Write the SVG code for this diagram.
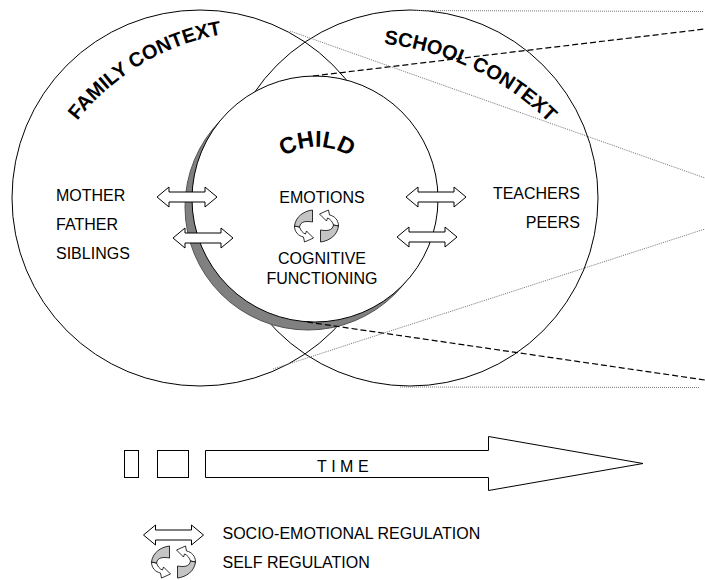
<svg xmlns="http://www.w3.org/2000/svg" xmlns:xlink="http://www.w3.org/1999/xlink" width="705" height="580" viewBox="0 0 705 580">
<style>
  .t { font-family: "Liberation Sans", Arial, sans-serif; font-size: 16px; fill: #000; }
  .tb { font-family: "Liberation Sans", Arial, sans-serif; font-weight: bold; fill: #000; }
  .circ { fill: none; stroke: #000; stroke-width: 1; }
  .dot { fill: none; stroke: #777; stroke-width: 1; stroke-dasharray: 1 1; }
  .dash { fill: none; stroke: #000; stroke-width: 1.2; stroke-dasharray: 6 3; }
  .dbl { fill: #fff; stroke: #000; stroke-width: 1; }
  .box { fill: #fff; stroke: #000; stroke-width: 1; }
  .rg { fill: #c4c4c4; stroke: #000; stroke-width: 0.8; stroke-linejoin: round; }
  .rw { fill: #fff; stroke: #000; stroke-width: 0.8; stroke-linejoin: round; }
</style>
<defs>
  <path id="dblArrow" d="M -30,0 L -18,-10 L -18,-5 L 18,-5 L 18,-10 L 30,0 L 18,10 L 18,5 L -18,5 L -18,10 Z"/>
  <g id="selfRegHalf">
    <path class="rw" d="M -22,0 C -22,6 -18,10 -13,11 L -12,16 L -3,12 L -10,5 L -11,8 C -14,7 -16,4 -17,1 Z"/>
    <path class="rg" d="M -4,-16 C -13,-15 -21,-9 -22,0 L -17,1 C -16,-5 -10,-5 -4,-4 Z"/>
  </g>
  <g id="selfReg">
    <use xlink:href="#selfRegHalf"/>
    <use xlink:href="#selfRegHalf" transform="rotate(180)"/>
  </g>
  <path id="arcFamily" d="M 54.5,155.7 A 235,235 0 0 1 253.8,31.2"/>
  <path id="arcSchool" d="M 331.1,42.9 A 279,279 0 0 1 582.9,163.0"/>
  <path id="arcChild" d="M 258.7,187.8 A 62,62 0 0 1 375.3,187.8"/>
</defs>

<g id="family-context">
  <circle class="circ" cx="200" cy="198" r="188"/>
  <text class="tb" font-size="20"><textPath xlink:href="#arcFamily" startOffset="52%" text-anchor="middle">FAMILY CONTEXT</textPath></text>
  <text class="t" x="56" y="200.5">MOTHER</text>
  <text class="t" x="56" y="229.5">FATHER</text>
  <text class="t" x="56" y="258.5">SIBLINGS</text>
</g>

<g id="school-context">
  <circle class="circ" cx="410" cy="198" r="188"/>
  <text class="tb" font-size="20"><textPath xlink:href="#arcSchool" startOffset="50%" text-anchor="middle">SCHOOL CONTEXT</textPath></text>
  <text class="t" x="580" y="198.5" text-anchor="end">TEACHERS</text>
  <text class="t" x="580" y="227.5" text-anchor="end">PEERS</text>
</g>

<g id="child">
  <circle cx="308" cy="207" r="123" fill="#808080" stroke="#555" stroke-width="1"/>
  <circle cx="315" cy="199" r="123" fill="#fff" stroke="#000" stroke-width="1"/>
  <text class="tb" font-size="23"><textPath xlink:href="#arcChild" startOffset="50%" text-anchor="middle">CHILD</textPath></text>
  <text class="t" x="322" y="203" text-anchor="middle">EMOTIONS</text>
  <use xlink:href="#selfReg" transform="translate(316.5,226)"/>
  <text class="t" x="322" y="264" text-anchor="middle">COGNITIVE</text>
  <text class="t" x="322" y="283.5" text-anchor="middle">FUNCTIONING</text>
</g>

<g id="connectors">
  <line class="dot" x1="410" y1="10.5" x2="703" y2="11.5"/>
  <line class="dash" x1="313" y1="76" x2="705" y2="29"/>
  <line class="dot" x1="290" y1="31" x2="705" y2="178"/>
  <line class="dot" x1="273" y1="369" x2="705" y2="229"/>
  <line class="dash" x1="307" y1="322" x2="705" y2="380"/>
  <line class="dot" x1="400" y1="387" x2="700" y2="387.5"/>
  <use xlink:href="#dblArrow" class="dbl" transform="translate(187,197)"/>
  <use xlink:href="#dblArrow" class="dbl" transform="translate(203,238)"/>
  <use xlink:href="#dblArrow" class="dbl" transform="translate(436,197)"/>
  <use xlink:href="#dblArrow" class="dbl" transform="translate(427,237)"/>
</g>

<g id="time-axis">
  <rect class="box" x="124.5" y="450.5" width="14" height="27"/>
  <rect class="box" x="157.5" y="450.5" width="31" height="27"/>
  <polygon class="box" points="205.5,450.5 488.5,450.5 488.5,436.5 643,463.5 488.5,490.5 488.5,477.5 205.5,477.5"/>
  <text class="t" x="345" y="471.5" font-size="14" letter-spacing="4.5" text-anchor="middle">TIME</text>
</g>

<g id="legend">
  <use xlink:href="#dblArrow" class="dbl" transform="translate(173.5,535)"/>
  <text class="t" x="222.5" y="539.3">SOCIO-EMOTIONAL REGULATION</text>
  <use xlink:href="#selfReg" transform="translate(173.5,562)"/>
  <text class="t" x="222.5" y="568.3">SELF REGULATION</text>
</g>
</svg>
